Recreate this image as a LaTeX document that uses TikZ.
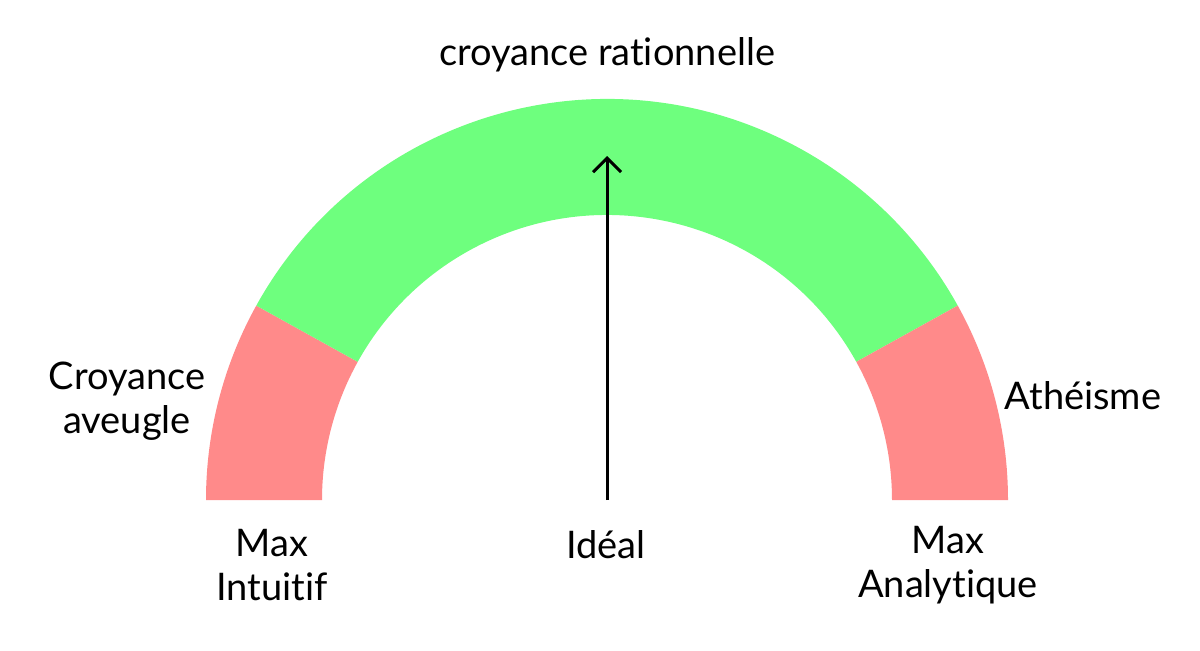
\documentclass[tikz,border=0pt]{standalone}
\usepackage{fontspec}
\setmainfont{Lato}[Ligatures={NoCommon}]
\usepackage{tikz}
\usetikzlibrary{arrows.meta}

\definecolor{gaugegreen}{RGB}{110,255,126}
\definecolor{gaugered}{RGB}{255,138,138}

\tikzset{
  lbl/.style={anchor=center, inner sep=0.75pt, align=center, font=\fontsize{28.5}{33}\selectfont},
}

\begin{document}
\begin{tikzpicture}[x=0.75pt,y=0.75pt,yscale=-1,xscale=1]

\useasboundingbox (0,0) rectangle (1200,650);

% left red part
\fill [gaugered] (206,500) arc[start angle=-180, end angle=-151, radius=401]
  -- ({607+285*cos(151)},{500-285*sin(151)}) arc[start angle=-151, end angle=-180, radius=285] -- cycle;

% green part
\fill [gaugegreen] ({607+401*cos(151)},{500-401*sin(151)}) arc[start angle=-151, end angle=-29, radius=401]
  -- ({607+285*cos(29)},{500-285*sin(29)}) arc[start angle=-29, end angle=-151, radius=285] -- cycle;

% right red part
\fill [gaugered] ({607+401*cos(29)},{500-401*sin(29)}) arc[start angle=-29, end angle=0, radius=401]
  -- (892,500) arc[start angle=0, end angle=-29, radius=285] -- cycle;

% needle
\coordinate (base) at (607,500);
\coordinate (tip) at (607,156);
\draw [line width=2.25pt, -{Straight Barb[length=10.5pt,width=21pt,line width=2.25pt]}] (base) -- (tip);

\node [lbl] (top) at (607,55) {croyance rationnelle};

\node [lbl] (blind) at (127,401) {Croyance\\aveugle};

\node [lbl] (athe) at (1083,396) {Athéisme};

\node [lbl] (maxint) at (272,565) {Max\\Intuitif};

\node [lbl] (ideal) at (606,545) {Idéal};

\node [lbl] (maxana) at (948,565) {Max\\Analytique};

\end{tikzpicture}
\end{document}
